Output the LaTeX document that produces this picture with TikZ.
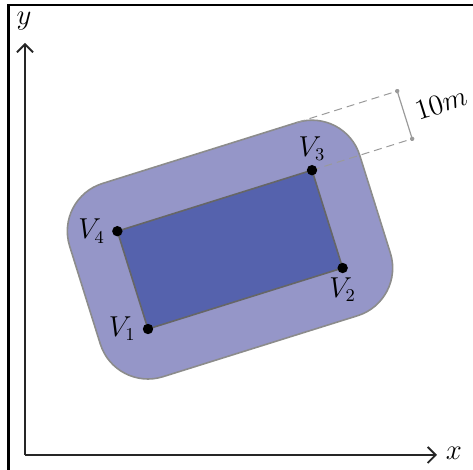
\documentclass[tikz,border=0pt]{standalone}
\usetikzlibrary{arrows.meta}
\definecolor{outerfill}{HTML}{9596C8}
\definecolor{innerfill}{HTML}{5562AD}
\definecolor{outerline}{HTML}{8C8C8C}
\definecolor{innerline}{HTML}{666666}
\definecolor{dimgray}{HTML}{9A9A9A}
\begin{document}
\begin{tikzpicture}[x=0.5pt,y=-0.5pt,
  font=\fontsize{13.5}{16}\selectfont,
  frameline/.style={line width=1.3pt},
  axisline/.style={line width=0.9pt, draw=black!85, -{Straight Barb[length=4pt,width=8pt,line width=0.9pt]}},
  zone/.style={fill=outerfill, draw=outerline, line width=0.8pt, rounded corners=25pt},
  poly/.style={fill=innerfill, draw=innerline, line width=0.8pt},
  dimdash/.style={draw=dimgray, line width=0.5pt, dash pattern=on 4pt off 2.5pt},
  dimline/.style={draw=dimgray, line width=0.6pt},
  vlabel/.style={inner sep=1pt},
]
\useasboundingbox (0,0) rectangle (473,470);
% frame
\draw[frameline] (8.5,470) -- (8.5,5) -- (473,5);
% axes
\coordinate (O) at (25,455);
\coordinate (xend) at (437,455);
\coordinate (yend) at (25,43);
\draw[axisline] (O) -- (xend);
\draw[axisline] (O) -- (yend);
\node (xl) at (454,453) {$x$};
\node (yl) at (24,21) {$y$};
\begin{scope}[shift={(148,329)}, rotate=17.4]
  \coordinate (V1) at (0,0);
  \coordinate (V2) at (204,0);
  \coordinate (V3) at (204,-102.5);
  \coordinate (V4) at (0,-102.5);
  \coordinate (T3) at (204,-152.5);
  \coordinate (D1) at (309,-102.5);
  \coordinate (D2) at (309,-152.5);
  \fill[zone] (-50,50) rectangle (254,-152.5);
  \draw[dimdash] (V3) -- (D1);
  \draw[dimdash] (T3) -- (D2);
  \draw[poly] (V1) -- (V2) -- (V3) -- (V4) -- cycle;
  \draw[dimline] (D1) -- (D2);
  \fill[dimgray] (D1) circle[radius=1.1pt];
  \fill[dimgray] (D2) circle[radius=1.1pt];
  \node[rotate=17.4, inner sep=1pt] (lbl) at (347,-127.5) {$10m$};
\end{scope}
\foreach \v in {V1,V2,V3,V4} \fill (\v) circle[radius=2.6pt];
\node[vlabel, left=5pt] (l1) at (V1) {$V_1$};
\node[vlabel, below=3.5pt] (l2) at (V2) {$V_2$};
\node[vlabel, above=3.5pt] (l3) at (V3) {$V_3$};
\node[vlabel, left=5pt] (l4) at (V4) {$V_4$};
\end{tikzpicture}
\end{document}
